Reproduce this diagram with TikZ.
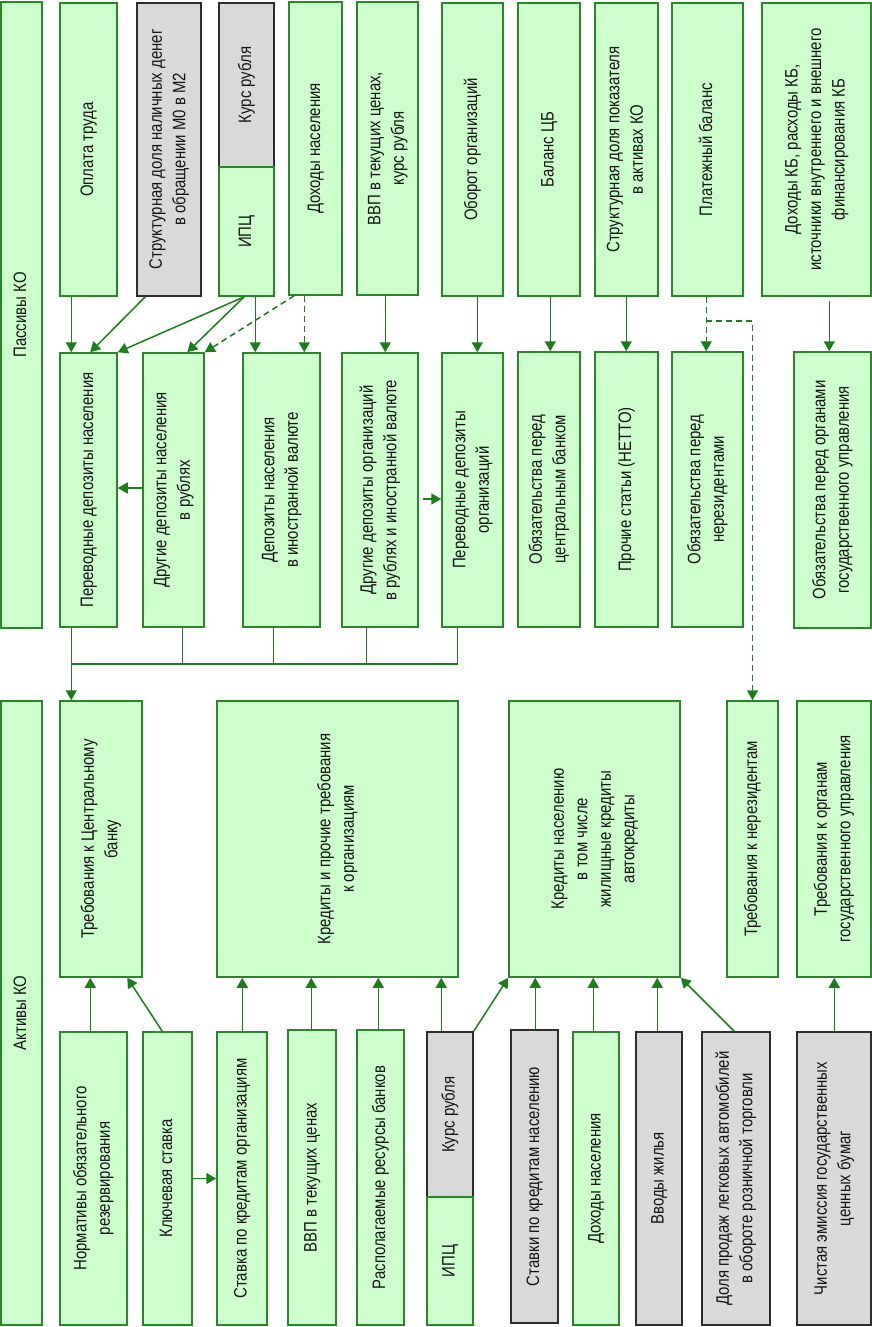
\documentclass[tikz,border=0pt]{standalone}
\usepackage{fontspec}
\setmainfont{Liberation Sans}[FakeStretch=0.83]
\usepackage{graphicx}
\usetikzlibrary{arrows.meta}
\definecolor{gfill}{RGB}{204,255,204}
\definecolor{gline}{RGB}{40,135,40}
\definecolor{afill}{RGB}{217,217,217}
\definecolor{aline}{RGB}{45,45,45}
\definecolor{conn}{RGB}{25,128,25}
\definecolor{txt}{RGB}{20,20,20}
\newcommand\rt[1]{\rotatebox{90}{\begin{tabular}{@{}c@{}}#1\end{tabular}}}
\newcommand\mybox[7]{\node[#1,minimum width={(#5-#3)*1pt},minimum height={(#6-#4)*1pt}] (#2) at ({(#3+#5)/2},{(#4+#6)/2}) {\rt{#7}};}
\begin{document}
\begin{tikzpicture}[x=1pt,y=-1pt,
  gbox/.style={draw=gline,fill=gfill,line width=1.5pt,inner sep=0pt,text=txt,font=\fontsize{18}{23.5}\selectfont},
  abox/.style={gbox,draw=aline,fill=afill},
  con/.style={draw=conn,line width=1.5pt,-{Triangle[length=10pt,width=11pt]}},
  plain/.style={draw=conn,line width=1.5pt},
  dcon/.style={con,dash pattern=on 6pt off 4pt}]
\useasboundingbox[fill=white] (0,0) rectangle (872,1327);
% top row
\mybox{gbox}{P}{1}{2}{42}{628}{Пассивы КО}
\mybox{gbox}{t1}{60}{3}{117}{296}{Оплата труда}
\mybox{abox}{t2}{137}{3}{201}{296}{Структурная доля наличных денег\\в обращении М0 в М2}
\mybox{abox}{t3a}{219}{3}{274}{167}{Курс рубля}
\mybox{gbox}{t3b}{219}{167}{274}{296}{ИПЦ}
\mybox{gbox}{t4}{289}{2}{342}{295}{Доходы населения}
\mybox{gbox}{t5}{357}{2}{418}{295}{ВВП в текущих ценах,\\курс рубля}
\mybox{gbox}{t6}{442}{3}{503}{296}{Оборот организаций}
\mybox{gbox}{t7}{518}{3}{580}{296}{Баланс ЦБ}
\mybox{gbox}{t8}{595}{3}{658}{296}{Структурная доля показателя\\в активах КО}
\mybox{gbox}{t9}{672}{3}{743}{296}{Платежный баланс}
\mybox{gbox}{t10}{762}{3}{871}{296}{Доходы КБ, расходы КБ,\\источники внутреннего и внешнего\\финансирования КБ}
% liabilities
\mybox{gbox}{m1}{60}{353}{117}{627}{Переводные депозиты населения}
\mybox{gbox}{m2}{143}{353}{204}{627}{Другие депозиты населения\\в рублях}
\mybox{gbox}{m3}{243}{353}{320}{627}{Депозиты населения\\в иностранной валюте}
\mybox{gbox}{m4}{342}{353}{418}{627}{Другие депозиты организаций\\в рублях и иностранной валюте}
\mybox{gbox}{m5}{442}{353}{503}{627}{Переводные депозиты\\организаций}
\mybox{gbox}{m6}{518}{352}{580}{627}{Обязательства перед\\центральным банком}
\mybox{gbox}{m7}{595}{352}{658}{627}{Прочие статьи (НЕТТО)}
\mybox{gbox}{m8}{672}{352}{743}{627}{Обязательства перед\\нерезидентами}
\mybox{gbox}{m9}{794}{352}{871}{628}{Обязательства перед органами\\государственного управления}
% assets
\mybox{gbox}{A}{1}{701}{42}{1325}{Активы КО}
\mybox{gbox}{a1}{60}{701}{142}{977}{Требования к Центральному\\банку}
\mybox{gbox}{a2}{217}{701}{458}{977}{Кредиты и прочие требования\\к организациям}
\mybox{gbox}{a3}{509}{701}{680}{977}{Кредиты населению\\в том числе\\жилищные кредиты\\автокредиты}
\mybox{gbox}{a4}{727}{701}{778}{977}{Требования к нерезидентам}
\mybox{gbox}{a5}{797}{701}{871}{977}{Требования к органам\\государственного управления}
% bottom row
\mybox{gbox}{b1}{60}{1032}{127}{1325}{Нормативы обязательного\\резервирования}
\mybox{gbox}{b2}{143}{1032}{192}{1325}{Ключевая ставка}
\mybox{gbox}{b3}{217}{1032}{267}{1325}{Ставка по кредитам организациям}
\mybox{gbox}{b4}{288}{1030}{336}{1325}{ВВП в текущих ценах}
\mybox{gbox}{b5}{357}{1030}{404}{1325}{Располагаемые ресурсы банков}
\mybox{abox}{b6a}{427}{1032}{473}{1197}{Курс рубля}
\mybox{gbox}{b6b}{427}{1197}{473}{1325}{ИПЦ}
\mybox{abox}{b7}{511}{1030}{558}{1323}{Ставки по кредитам населению}
\mybox{gbox}{b8}{573}{1032}{619}{1325}{Доходы населения}
\mybox{abox}{b9}{636}{1032}{682}{1325}{Вводы жилья}
\mybox{abox}{b10}{702}{1032}{770}{1325}{Доля продаж легковых автомобилей\\в обороте розничной торговли}
\mybox{abox}{b11}{797}{1032}{871}{1325}{Чистая эмиссия государственных\\ценных бумаг}
% top connectors
\draw[con] ([xshift=12pt]t1.south west) -- ([xshift=12pt]m1.north west);
\draw[con] ([xshift=9pt]t2.south west) -- ([xshift=31pt]m1.north west);
\draw[con] ([xshift=26pt]t3b.south west) -- (m1.north east);
\draw[con] ([xshift=26pt]t3b.south west) -- ([xshift=45pt]m2.north west);
\draw[con] ([xshift=37pt]t3b.south west) -- ([xshift=13pt]m3.north west);
\draw[dcon] ([xshift=6pt]t4.south west) -- (m2.north east);
\draw[dcon] ([xshift=16pt]t4.south west) -- ([xshift=62pt]m3.north west);
\draw[con] ([xshift=29pt]t5.south west) -- ([xshift=44pt]m4.north west);
\draw[con] ([xshift=36pt]t6.south west) -- ([xshift=36pt]m5.north west);
\draw[con] ([xshift=33pt]t7.south west) -- ([xshift=33pt]m6.north west);
\draw[con] ([xshift=32pt]t8.south west) -- ([xshift=32pt]m7.north west);
\draw[dcon] ([xshift=35pt]t9.south west) -- ([xshift=35pt]m8.north west);
\coordinate (j9) at ([xshift=35pt,yshift=-24pt]t9.south west);
\draw[dcon] (j9) -| (a4.north);
\draw[con] ([xshift=68pt,yshift=-4pt]t10.south west) -- ([xshift=36pt]m9.north west);
% horizontal links
\draw[con] ([yshift=2pt]m2.west) -- ([yshift=2pt]m1.east);
\draw[con] ([xshift=4pt,yshift=-9pt]m4.east) -- ([yshift=-9pt]m5.west);
% bus
\coordinate (busL) at ([xshift=12pt,yshift=-36pt]m1.south west);
\draw[con] ([xshift=12pt]m1.south west) -- ([xshift=12pt]a1.north west);
\draw[plain] (busL) -| ([xshift=16pt]m5.south west);
\draw[plain] ([xshift=40pt]m2.south west) -- ++(0,36);
\draw[plain] ([xshift=31pt]m3.south west) -- ++(0,36);
\draw[plain] ([xshift=25pt]m4.south west) -- ++(0,36);
% bottom connectors
\draw[con] ([xshift=31pt]b1.north west) -- ([xshift=31pt]a1.south west);
\draw[con] ([xshift=20pt]b2.north west) -- ([xshift=68pt]a1.south west);
\draw[con] (b2.east) -- (b3.west);
\draw[con] ([xshift=26pt]b3.north west) -- ([xshift=26pt]a2.south west);
\draw[con] ([xshift=24pt]b4.north west) -- ([xshift=95pt]a2.south west);
\draw[con] ([xshift=22pt]b5.north west) -- ([xshift=162pt]a2.south west);
\draw[con] ([xshift=15pt]b6a.north west) -- ([xshift=225pt]a2.south west);
\draw[con] (b6a.north east) -- (a3.south west);
\draw[con] ([xshift=25pt]b7.north west) -- ([xshift=27pt]a3.south west);
\draw[con] ([xshift=21pt]b8.north west) -- ([xshift=85pt]a3.south west);
\draw[con] ([xshift=22pt]b9.north west) -- ([xshift=149pt]a3.south west);
\draw[con] ([xshift=33pt]b10.north west) -- (a3.south east);
\draw[con] ([xshift=38pt]b11.north west) -- ([xshift=38pt]a5.south west);
\end{tikzpicture}
\end{document}
